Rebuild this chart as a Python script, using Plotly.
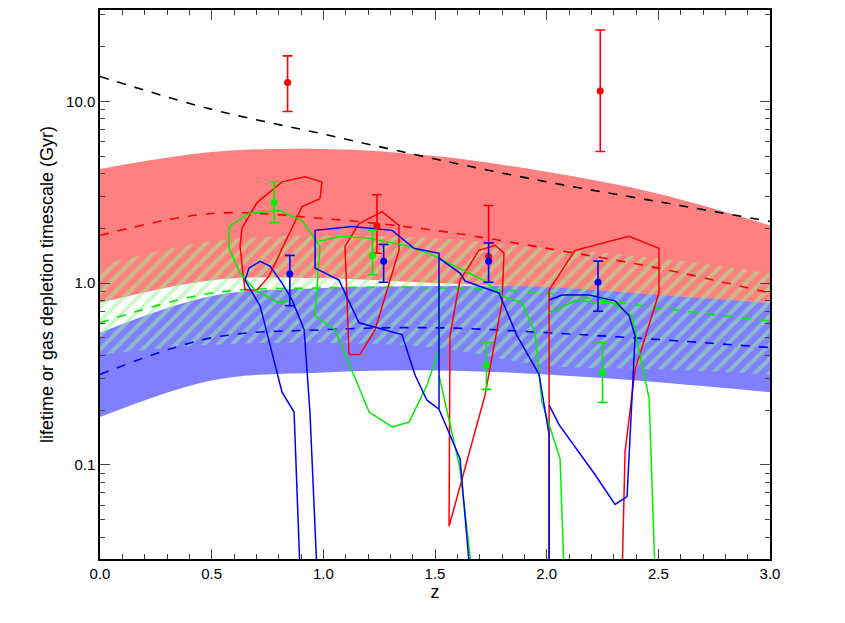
import plotly.graph_objects as go

# model curves sampled at z grid (values are log10 of timescale in Gyr)
z_grid = [0, 0.5, 1.0, 1.5, 2.0, 2.5, 3.0]
black_dash = [1.137, 0.956, 0.820, 0.683, 0.557, 0.448, 0.339]
red_up = [0.628, 0.721, 0.738, 0.699, 0.612, 0.492, 0.317]
red_lo = [-0.109, 0.016, 0.027, 0.0, -0.027, -0.071, -0.109]
blue_up = [-0.273, -0.071, -0.027, -0.016, -0.022, -0.066, -0.109]
blue_lo = [-0.738, -0.536, -0.492, -0.481, -0.503, -0.546, -0.601]
red_mid = [0.262, 0.383, 0.355, 0.290, 0.191, 0.082, -0.055]
blue_mid = [-0.503, -0.301, -0.257, -0.246, -0.273, -0.311, -0.355]
green_mid = [-0.219, -0.055, -0.027, -0.027, -0.055, -0.137, -0.208]
green_up = [0.098, 0.230, 0.262, 0.246, 0.191, 0.137, 0.055]
green_lo = [-0.393, -0.339, -0.328, -0.355, -0.454, -0.475, -0.503]

# contours: (z list, log10 t list)
red_contours = [
    ([0.994, 0.918, 0.815, 0.703, 0.636, 0.627, 0.649, 0.703, 0.757, 0.905, 0.985, 0.994],
     [0.557, 0.585, 0.557, 0.443, 0.301, 0.202, -0.038, -0.038, 0.038, 0.421, 0.464, 0.557]),
    ([1.115, 1.097, 1.160, 1.263, 1.339, 1.339, 1.232, 1.164, 1.115],
     [-0.393, 0.202, 0.328, 0.393, 0.317, 0.180, -0.257, -0.393, -0.393]),
    ([1.563, 1.567, 1.612, 1.697, 1.769, 1.809, 1.800, 1.724, 1.563],
     [-1.339, -0.290, 0.016, 0.180, 0.208, 0.164, -0.109, -0.617, -1.339]),
    ([2.011, 2.011, 2.127, 2.369, 2.503, 2.503, 2.396, 2.351, 2.338],
     [-1.6, -0.038, 0.180, 0.257, 0.191, -0.055, -0.475, -0.929, -1.6]),
]
blue_contours = [
    ([0.896, 0.869, 0.815, 0.717, 0.649, 0.667, 0.717, 0.761, 0.815, 0.860, 0.914, 0.940, 0.972],
     [-1.6, -0.710, -0.601, -0.126, 0.016, 0.082, 0.120, 0.093, 0.0, -0.093, -0.257, -0.710, -1.6]),
    ([1.657, 1.612, 1.518, 1.464, 1.411, 1.352, 1.160, 1.070, 0.963, 0.963, 1.129, 1.308, 1.406, 1.518, 1.518],
     [-1.6, -0.967, -0.694, -0.645, -0.508, -0.284, -0.219, 0.016, 0.082, 0.290, 0.311, 0.290, 0.191, 0.164, -0.694]),
    ([1.518, 1.612, 1.635, 1.787, 1.867, 1.966, 2.011, 2.011],
     [0.137, 0.055, 0.011, -0.055, -0.290, -0.503, -0.836, -1.6]),
    ([2.011, 2.056, 2.217, 2.306, 2.360, 2.396, 2.369, 2.306, 2.190, 2.069, 2.011],
     [-0.672, -0.781, -1.055, -1.219, -1.175, -0.290, -0.180, -0.098, -0.066, -0.066, -0.093]),
]
green_contours = [
    ([0.860, 0.802, 0.694, 0.627, 0.578, 0.578, 0.667, 0.802, 0.905, 0.985, 0.963, 1.052, 1.205, 1.308, 1.384, 1.464, 1.518, 1.518],
     [-0.093, -0.109, -0.038, 0.055, 0.191, 0.311, 0.383, 0.399, 0.344, 0.202, -0.180, -0.257, -0.710, -0.792, -0.765, -0.563, -0.366, 0.016]),
    ([0.981, 1.084, 1.205, 1.384, 1.500, 1.724, 1.800, 1.890, 1.948, 1.979, 2.060, 2.078],
     [0.230, 0.257, 0.246, 0.202, 0.148, 0.011, -0.071, -0.109, -0.273, -0.656, -0.967, -1.6]),
    ([1.518, 1.612, 1.666], [-0.508, -1.022, -1.6]),
    ([2.011, 2.127, 2.293, 2.382, 2.459, 2.485], [-0.164, -0.098, -0.109, -0.180, -0.639, -1.6]),
]

# data points with error bars (Gyr)
red_z = [0.84, 1.24, 1.74, 2.24]
red_t = [12.7, 2.07, 1.4, 11.4]
red_hi = [17.8, 3.06, 2.67, 24.7]
red_lo_e = [8.8, 1.46, 1.67, 5.3]
green_z = [0.78, 1.22, 1.73, 2.25]
green_t = [2.77, 1.42, 0.352, 0.322]
green_hi = [3.61, 1.95, 0.47, 0.47]
green_lo_e = [2.15, 1.11, 0.26, 0.22]
blue_z = [0.85, 1.27, 1.74, 2.23]
blue_t = [1.12, 1.32, 1.32, 1.01]
blue_hi = [1.42, 1.63, 1.66, 1.32]
blue_lo_e = [0.75, 1.01, 1.01, 0.70]

def p10(a):
    return [10 ** v for v in a]

fig = go.Figure()

def band(up, lo, color, pattern=None):
    fig.add_trace(go.Scatter(x=z_grid, y=p10(lo), mode="lines", line=dict(width=0, shape="spline"),
                             showlegend=False, hoverinfo="skip"))
    kw = dict(fill="tonexty", fillcolor=color)
    if pattern:
        kw = dict(fill="tonexty", fillcolor="rgba(0,0,0,0)", fillpattern=pattern)
    fig.add_trace(go.Scatter(x=z_grid, y=p10(up), mode="lines", line=dict(width=0, shape="spline"),
                             showlegend=False, hoverinfo="skip", **kw))

band(red_up, red_lo, "#ff8080")
band(blue_up, blue_lo, "#8080ff")
band(green_up, green_lo, None, pattern=dict(shape="/", fgcolor="#96f596", bgcolor="rgba(0,0,0,0)", size=10, solidity=0.4))

for arr, col in [(red_mid, "red"), (blue_mid, "blue"), (green_mid, "#00ee00"), (black_dash, "black")]:
    fig.add_trace(go.Scatter(x=z_grid, y=p10(arr), mode="lines",
                             line=dict(color=col, dash="dash", width=1.6, shape="spline"), showlegend=False))

for conts, col in [(red_contours, "red"), (green_contours, "#00ee00"), (blue_contours, "blue")]:
    for zz, ll in conts:
        fig.add_trace(go.Scatter(x=zz, y=p10(ll), mode="lines", line=dict(color=col, width=1.5),
                                 showlegend=False))

for zz, t, hi, lo, col in [(red_z, red_t, red_hi, red_lo_e, "red"),
                           (green_z, green_t, green_hi, green_lo_e, "#00ee00"),
                           (blue_z, blue_t, blue_hi, blue_lo_e, "blue")]:
    fig.add_trace(go.Scatter(x=zz, y=t, mode="markers", marker=dict(color=col, size=7),
                             error_y=dict(type="data", symmetric=False,
                                          array=[h - v for h, v in zip(hi, t)],
                                          arrayminus=[v - l for v, l in zip(t, lo)],
                                          color=col, thickness=1.6, width=5),
                             showlegend=False))

axfont = dict(family="Liberation Sans", size=15, color="black")
fig.update_layout(
    width=845, height=623, margin=dict(l=92, r=83, t=0, b=72),
    plot_bgcolor="white", paper_bgcolor="white", font=axfont,
    xaxis=dict(range=[0, 3], tickvals=[0, 0.5, 1, 1.5, 2, 2.5, 3],
               ticktext=["0.0", "0.5", "1.0", "1.5", "2.0", "2.5", "3.0"],
               ticks="inside", ticklen=10, mirror="allticks", showline=True, linecolor="black",
               linewidth=1.5, showgrid=False, zeroline=False,
               minor=dict(ticks="inside", ticklen=5, dtick=0.1),
               title=dict(text="z", standoff=4)),
    yaxis=dict(type="log", range=[-1.519, 1.503], tickvals=[0.1, 1, 10],
               ticktext=["0.1", "1.0", "10.0"],
               ticks="inside", ticklen=10, mirror="allticks", showline=True, linecolor="black",
               linewidth=1.5, showgrid=False, zeroline=False,
               minor=dict(ticks="inside", ticklen=5,
                          tickvals=[m * 10 ** e for e in (-2, -1, 0, 1) for m in range(2, 10)]),
               title=dict(text="lifetime or gas depletion timescale (Gyr)", standoff=8)),
)
fig.write_html("out.html")
